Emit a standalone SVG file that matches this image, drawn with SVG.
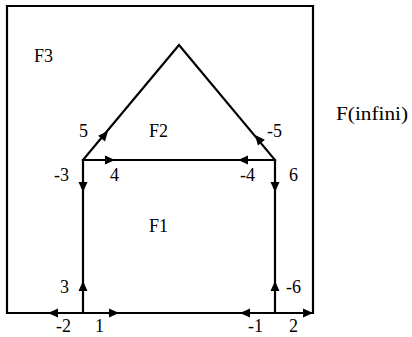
<svg xmlns="http://www.w3.org/2000/svg" xmlns:xlink="http://www.w3.org/1999/xlink" width="412" height="337" viewBox="0 0 412 337">
<style>
.e{fill:none;stroke:#000;stroke-width:2.2;stroke-linejoin:miter;stroke-linecap:square}
text{font-family:'Liberation Serif','Times New Roman',serif;font-size:18px;fill:#000}
</style>
<defs>
<path id="ah" d="M0,0 L-10,-4.5 L-10,4.5 Z" fill="#000"/>
</defs>
<rect width="412" height="337" fill="#fff"/>
<g id="connectors">
<path class="e" d="M7,6 H313 V313 H7 Z"/>
<path class="e" d="M83,313 V160 H275 V313"/>
<path class="e" d="M83,160 L179,45 L275,160"/>
<use xlink:href="#ah" transform="translate(48,313) rotate(180)"/>
<use xlink:href="#ah" transform="translate(119,313)"/>
<use xlink:href="#ah" transform="translate(240,313) rotate(180)"/>
<use xlink:href="#ah" transform="translate(313,313)"/>
<use xlink:href="#ah" transform="translate(83,281) rotate(-90)"/>
<use xlink:href="#ah" transform="translate(275,281) rotate(-90)"/>
<use xlink:href="#ah" transform="translate(83,192) rotate(90)"/>
<use xlink:href="#ah" transform="translate(275,192) rotate(90)"/>
<use xlink:href="#ah" transform="translate(115,160)"/>
<use xlink:href="#ah" transform="translate(238,160) rotate(180)"/>
<use xlink:href="#ah" transform="translate(108,131) rotate(-50.1)"/>
<use xlink:href="#ah" transform="translate(255,135) rotate(-129.9)"/>
</g>
<g id="edge-labels">
<text x="79" y="137">5</text>
<text x="267" y="137">-5</text>
<text x="54" y="181">-3</text>
<text x="110" y="181">4</text>
<text x="240" y="181">-4</text>
<text x="289" y="181">6</text>
<text x="60" y="293">3</text>
<text x="286" y="293">-6</text>
<text x="56" y="332">-2</text>
<text x="95" y="332">1</text>
<text x="248" y="332">-1</text>
<text x="289" y="332">2</text>
</g>
<g id="F1"><text x="149" y="232">F1</text></g>
<g id="F2"><text x="149" y="137">F2</text></g>
<g id="F3"><text x="34" y="62">F3</text></g>
<g id="Finfini"><text x="336" y="120" textLength="72" lengthAdjust="spacingAndGlyphs">F(infini)</text></g>
</svg>
